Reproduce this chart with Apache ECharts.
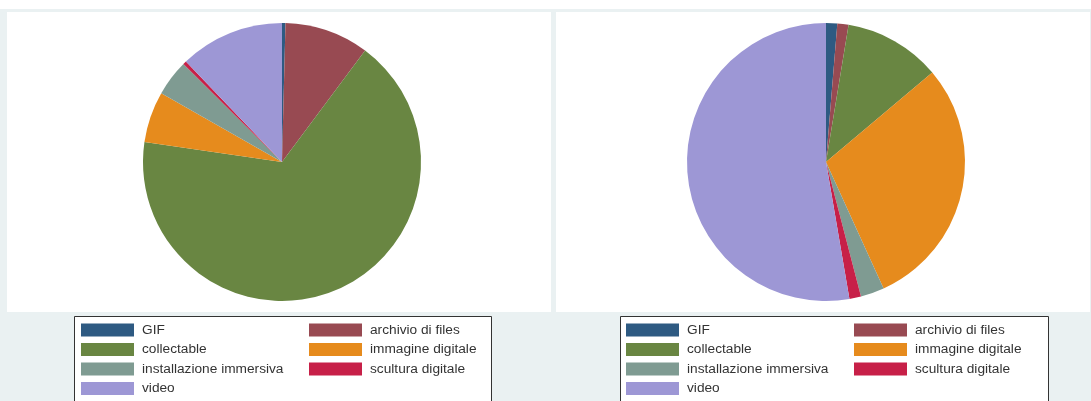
<!DOCTYPE html>
<html>
<head>
<meta charset="utf-8">
<script src="https://cdn.jsdelivr.net/npm/echarts@6/dist/echarts.min.js"></script>
<style>
html,body{margin:0;padding:0;background:#ffffff;}
#c{width:1091px;height:401px;}
</style>
</head>
<body>
<div id="c"></div>
<script>
const categories = ['GIF','archivio di files','collectable','immagine digitale','installazione immersiva','scultura digitale','video'];
const colors = ['#2e5a82','#984a52','#698642','#e68b1d','#7f9b92','#c72048','#9d97d5'];
const leftValues = [0.4, 9.8, 67.1, 5.95, 4.2, 0.4, 12.15];
const rightValues = [1.3, 1.3, 11.25, 29.35, 2.75, 1.35, 52.7];
const legendCol1 = ['GIF','collectable','installazione immersiva','video'];
const legendCol2 = ['archivio di files','immagine digitale','scultura digitale'];

const chart = echarts.init(document.getElementById('c'), null, {renderer:'canvas'});

function pieData(vals){
  return categories.map((n,i)=>({name:n, value:vals[i], itemStyle:{color:colors[i]}}));
}
function legend(data, left){
  return {
    data: data, orient:'vertical', left:left, top:323, padding:0,
    itemWidth:53, itemHeight:13, itemGap:5.5, icon:'rect',
    selectedMode:false,
    textStyle:{fontFamily:'Liberation Sans', fontSize:13.7, color:'#333333', lineHeight:13, padding:[0,0,0,3]}
  };
}
function pie(vals, cx){
  return {
    type:'pie', center:[cx,162], radius:139, startAngle:90, clockwise:true,
    label:{show:false}, labelLine:{show:false}, silent:true, animation:false,
    itemStyle:{borderWidth:0},
    data: pieData(vals)
  };
}

chart.setOption({
  backgroundColor:'#eaf1f2',
  animation:false,
  graphic:[
    {type:'rect', shape:{x:0,y:0,width:1091,height:9}, style:{fill:'#ffffff'}, z:-10},
    {type:'rect', shape:{x:7,y:12,width:544,height:300}, style:{fill:'#ffffff'}, z:-10},
    {type:'rect', shape:{x:556,y:12,width:534,height:300}, style:{fill:'#ffffff'}, z:-10},
    {type:'rect', shape:{x:74.5,y:316.5,width:417,height:95}, style:{fill:'#ffffff', stroke:'#333333', lineWidth:1}, z:-5},
    {type:'rect', shape:{x:620.5,y:316.5,width:428,height:95}, style:{fill:'#ffffff', stroke:'#333333', lineWidth:1}, z:-5}
  ],
  legend:[
    legend(legendCol1, 81),
    legend(legendCol2, 309),
    legend(legendCol1, 626),
    legend(legendCol2, 854)
  ],
  series:[ pie(leftValues, 282), pie(rightValues, 826) ]
});
</script>
</body>
</html>
